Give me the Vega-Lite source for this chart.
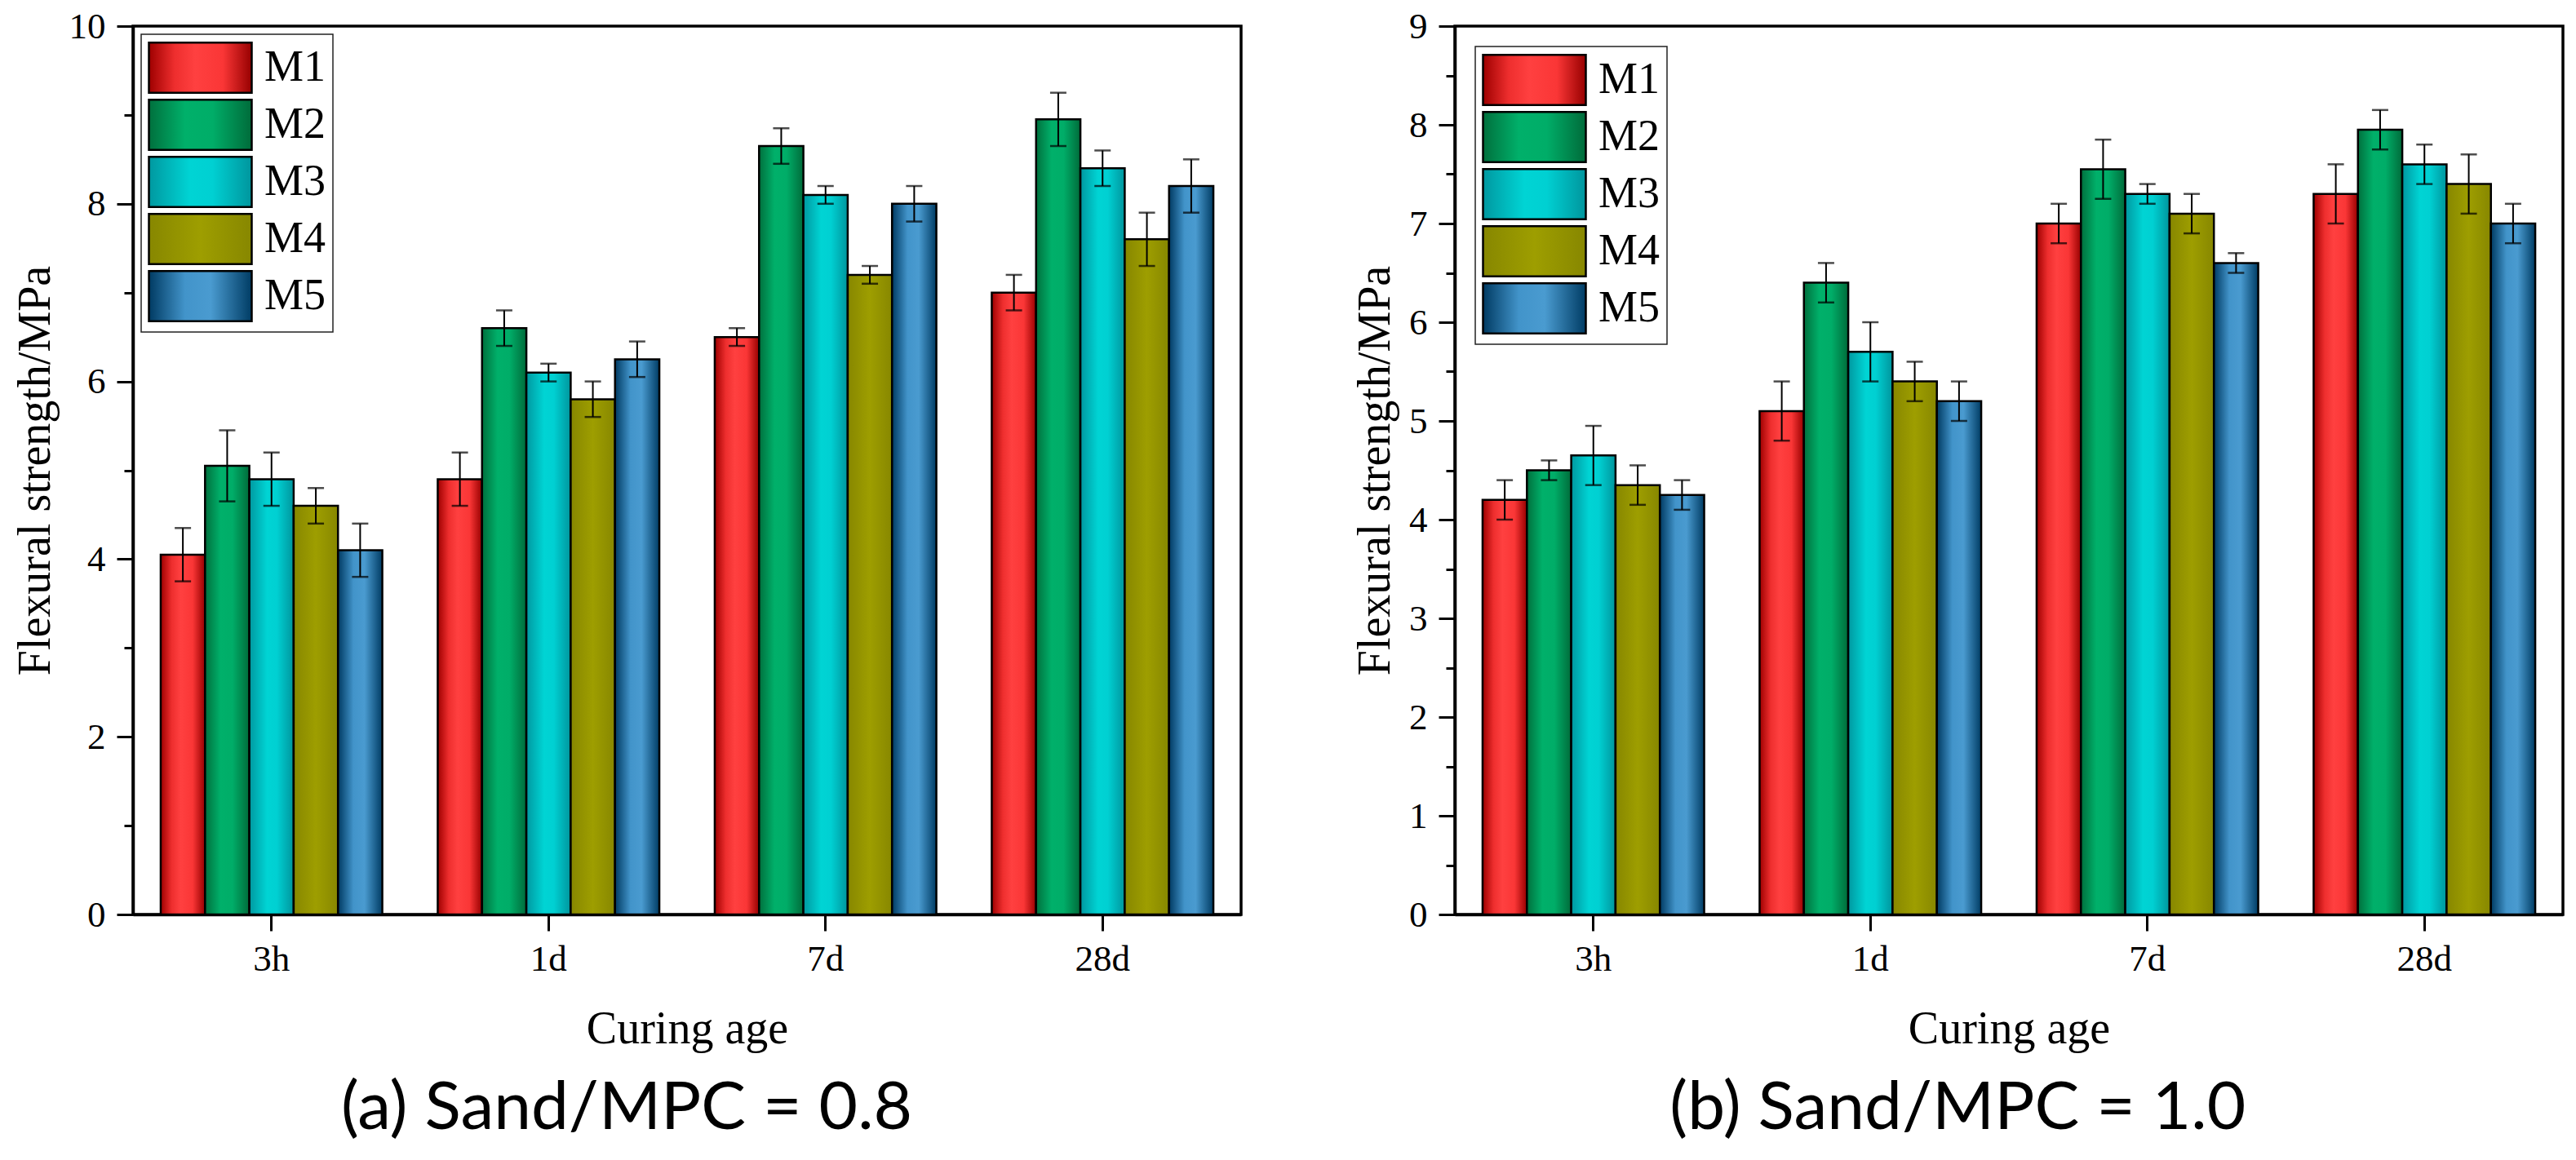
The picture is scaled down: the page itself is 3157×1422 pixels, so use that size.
{
  "$schema": "https://vega.github.io/schema/vega-lite/v6.json",
  "background": "white",
  "padding": {"left": 13, "top": 8, "right": 4, "bottom": 10},
  "spacing": 132,
  "datasets": {
    "a": [
      {"age": "3h", "mix": "M1", "v": 4.05, "lo": 3.75, "hi": 4.35},
      {"age": "3h", "mix": "M2", "v": 5.05, "lo": 4.65, "hi": 5.45},
      {"age": "3h", "mix": "M3", "v": 4.9, "lo": 4.6, "hi": 5.2},
      {"age": "3h", "mix": "M4", "v": 4.6, "lo": 4.4, "hi": 4.8},
      {"age": "3h", "mix": "M5", "v": 4.1, "lo": 3.8, "hi": 4.4},
      {"age": "1d", "mix": "M1", "v": 4.9, "lo": 4.6, "hi": 5.2},
      {"age": "1d", "mix": "M2", "v": 6.6, "lo": 6.4, "hi": 6.8},
      {"age": "1d", "mix": "M3", "v": 6.1, "lo": 6.0, "hi": 6.2},
      {"age": "1d", "mix": "M4", "v": 5.8, "lo": 5.6, "hi": 6.0},
      {"age": "1d", "mix": "M5", "v": 6.25, "lo": 6.05, "hi": 6.45},
      {"age": "7d", "mix": "M1", "v": 6.5, "lo": 6.4, "hi": 6.6},
      {"age": "7d", "mix": "M2", "v": 8.65, "lo": 8.45, "hi": 8.85},
      {"age": "7d", "mix": "M3", "v": 8.1, "lo": 8.0, "hi": 8.2},
      {"age": "7d", "mix": "M4", "v": 7.2, "lo": 7.1, "hi": 7.3},
      {"age": "7d", "mix": "M5", "v": 8.0, "lo": 7.8, "hi": 8.2},
      {"age": "28d", "mix": "M1", "v": 7.0, "lo": 6.8, "hi": 7.2},
      {"age": "28d", "mix": "M2", "v": 8.95, "lo": 8.65, "hi": 9.25},
      {"age": "28d", "mix": "M3", "v": 8.4, "lo": 8.2, "hi": 8.6},
      {"age": "28d", "mix": "M4", "v": 7.6, "lo": 7.3, "hi": 7.9},
      {"age": "28d", "mix": "M5", "v": 8.2, "lo": 7.9, "hi": 8.5}
    ],
    "b": [
      {"age": "3h", "mix": "M1", "v": 4.2, "lo": 4.0, "hi": 4.4},
      {"age": "3h", "mix": "M2", "v": 4.5, "lo": 4.4, "hi": 4.6},
      {"age": "3h", "mix": "M3", "v": 4.65, "lo": 4.35, "hi": 4.95},
      {"age": "3h", "mix": "M4", "v": 4.35, "lo": 4.15, "hi": 4.55},
      {"age": "3h", "mix": "M5", "v": 4.25, "lo": 4.1, "hi": 4.4},
      {"age": "1d", "mix": "M1", "v": 5.1, "lo": 4.8, "hi": 5.4},
      {"age": "1d", "mix": "M2", "v": 6.4, "lo": 6.2, "hi": 6.6},
      {"age": "1d", "mix": "M3", "v": 5.7, "lo": 5.4, "hi": 6.0},
      {"age": "1d", "mix": "M4", "v": 5.4, "lo": 5.2, "hi": 5.6},
      {"age": "1d", "mix": "M5", "v": 5.2, "lo": 5.0, "hi": 5.4},
      {"age": "7d", "mix": "M1", "v": 7.0, "lo": 6.8, "hi": 7.2},
      {"age": "7d", "mix": "M2", "v": 7.55, "lo": 7.25, "hi": 7.85},
      {"age": "7d", "mix": "M3", "v": 7.3, "lo": 7.2, "hi": 7.4},
      {"age": "7d", "mix": "M4", "v": 7.1, "lo": 6.9, "hi": 7.3},
      {"age": "7d", "mix": "M5", "v": 6.6, "lo": 6.5, "hi": 6.7},
      {"age": "28d", "mix": "M1", "v": 7.3, "lo": 7.0, "hi": 7.6},
      {"age": "28d", "mix": "M2", "v": 7.95, "lo": 7.75, "hi": 8.15},
      {"age": "28d", "mix": "M3", "v": 7.6, "lo": 7.4, "hi": 7.8},
      {"age": "28d", "mix": "M4", "v": 7.4, "lo": 7.1, "hi": 7.7},
      {"age": "28d", "mix": "M5", "v": 7.0, "lo": 6.8, "hi": 7.2}
    ]
  },
  "hconcat": [
    {
      "data": {"name": "a"},
      "width": 1358,
      "height": 1089,
      "title": {"text": "(a) Sand/MPC = 0.8", "orient": "bottom", "anchor": "middle", "frame": "bounds", "offset": 30},
      "encoding": {
        "x": {
          "field": "age", "type": "nominal", "sort": ["3h", "1d", "7d", "28d"],
          "scale": {"paddingInner": 0.2, "paddingOuter": 0.1},
          "axis": {"title": "Curing age"}
        },
        "xOffset": {"field": "mix", "type": "nominal", "scale": {"paddingInner": 0, "paddingOuter": 0}}
      },
      "layer": [
        {
          "mark": {"type": "bar", "stroke": "black", "strokeWidth": 2.5},
          "encoding": {
            "y": {
              "field": "v", "type": "quantitative",
              "title": "Flexural strength/MPa",
              "scale": {"domain": [0, 10], "nice": false},
              "axis": {
                "values": [0, 1, 2, 3, 4, 5, 6, 7, 8, 9, 10],
                "labelExpr": "datum.value % 2 === 0 ? format(datum.value, 'd') : ''",
                "tickSize": {"condition": {"test": "datum.value % 2 === 0", "value": 20}, "value": 11}
              }
            },
            "fill": {
              "field": "mix", "type": "nominal",
              "scale": {
                "domain": ["M1", "M2", "M3", "M4", "M5"],
                "range": [
                  {"expr": "{gradient: 'linear', x1: 0, y1: 0, x2: 1, y2: 0, stops: [{offset: 0, color: '#9e0000'}, {offset: 0.25, color: '#ee2e2e'}, {offset: 0.45, color: '#ff4040'}, {offset: 0.72, color: '#fa3636'}, {offset: 1, color: '#960000'}]}"},
                  {"expr": "{gradient: 'linear', x1: 0, y1: 0, x2: 1, y2: 0, stops: [{offset: 0, color: '#00703d'}, {offset: 0.35, color: '#00b06a'}, {offset: 0.62, color: '#00ad68'}, {offset: 1, color: '#006b3a'}]}"},
                  {"expr": "{gradient: 'linear', x1: 0, y1: 0, x2: 1, y2: 0, stops: [{offset: 0, color: '#0098a0'}, {offset: 0.4, color: '#00d4d4'}, {offset: 0.62, color: '#00d0d2'}, {offset: 1, color: '#00959d'}]}"},
                  {"expr": "{gradient: 'linear', x1: 0, y1: 0, x2: 1, y2: 0, stops: [{offset: 0, color: '#878700'}, {offset: 0.5, color: '#9e9e00'}, {offset: 1, color: '#878700'}]}"},
                  {"expr": "{gradient: 'linear', x1: 0, y1: 0, x2: 1, y2: 0, stops: [{offset: 0, color: '#003a62'}, {offset: 0.35, color: '#4294ca'}, {offset: 0.6, color: '#4a9bd0'}, {offset: 1, color: '#003c64'}]}"}
                ]
              },
              "legend": {"offset": 10}
            }
          }
        },
        {
          "mark": {"type": "rule", "color": "black", "strokeWidth": 2},
          "encoding": {
            "y": {"field": "lo", "type": "quantitative", "title": "Flexural strength/MPa"},
            "y2": {"field": "hi"}
          }
        },
        {
          "mark": {"type": "tick", "color": "black", "thickness": 2.5, "size": 20},
          "encoding": {"y": {"field": "lo", "type": "quantitative", "title": "Flexural strength/MPa"}}
        },
        {
          "mark": {"type": "tick", "color": "black", "thickness": 2.5, "size": 20},
          "encoding": {"y": {"field": "hi", "type": "quantitative", "title": "Flexural strength/MPa"}}
        }
      ]
    },
    {
      "data": {"name": "b"},
      "width": 1358,
      "height": 1089,
      "title": {"text": "(b) Sand/MPC = 1.0", "orient": "bottom", "anchor": "middle", "frame": "bounds", "offset": 30},
      "encoding": {
        "x": {
          "field": "age", "type": "nominal", "sort": ["3h", "1d", "7d", "28d"],
          "scale": {"paddingInner": 0.2, "paddingOuter": 0.1},
          "axis": {"title": "Curing age"}
        },
        "xOffset": {"field": "mix", "type": "nominal", "scale": {"paddingInner": 0, "paddingOuter": 0}}
      },
      "layer": [
        {
          "mark": {"type": "bar", "stroke": "black", "strokeWidth": 2.5},
          "encoding": {
            "y": {
              "field": "v", "type": "quantitative",
              "title": "Flexural strength/MPa",
              "scale": {"domain": [0, 9], "nice": false},
              "axis": {
                "values": [0, 0.5, 1, 1.5, 2, 2.5, 3, 3.5, 4, 4.5, 5, 5.5, 6, 6.5, 7, 7.5, 8, 8.5, 9],
                "labelExpr": "datum.value % 1 === 0 ? format(datum.value, 'd') : ''",
                "tickSize": {"condition": {"test": "datum.value % 1 === 0", "value": 20}, "value": 11}
              }
            },
            "fill": {
              "field": "mix", "type": "nominal",
              "scale": {
                "domain": ["M1", "M2", "M3", "M4", "M5"],
                "range": [
                  {"expr": "{gradient: 'linear', x1: 0, y1: 0, x2: 1, y2: 0, stops: [{offset: 0, color: '#9e0000'}, {offset: 0.25, color: '#ee2e2e'}, {offset: 0.45, color: '#ff4040'}, {offset: 0.72, color: '#fa3636'}, {offset: 1, color: '#960000'}]}"},
                  {"expr": "{gradient: 'linear', x1: 0, y1: 0, x2: 1, y2: 0, stops: [{offset: 0, color: '#00703d'}, {offset: 0.35, color: '#00b06a'}, {offset: 0.62, color: '#00ad68'}, {offset: 1, color: '#006b3a'}]}"},
                  {"expr": "{gradient: 'linear', x1: 0, y1: 0, x2: 1, y2: 0, stops: [{offset: 0, color: '#0098a0'}, {offset: 0.4, color: '#00d4d4'}, {offset: 0.62, color: '#00d0d2'}, {offset: 1, color: '#00959d'}]}"},
                  {"expr": "{gradient: 'linear', x1: 0, y1: 0, x2: 1, y2: 0, stops: [{offset: 0, color: '#878700'}, {offset: 0.5, color: '#9e9e00'}, {offset: 1, color: '#878700'}]}"},
                  {"expr": "{gradient: 'linear', x1: 0, y1: 0, x2: 1, y2: 0, stops: [{offset: 0, color: '#003a62'}, {offset: 0.35, color: '#4294ca'}, {offset: 0.6, color: '#4a9bd0'}, {offset: 1, color: '#003c64'}]}"}
                ]
              },
              "legend": {"offset": 25}
            }
          }
        },
        {
          "mark": {"type": "rule", "color": "black", "strokeWidth": 2},
          "encoding": {
            "y": {"field": "lo", "type": "quantitative", "title": "Flexural strength/MPa"},
            "y2": {"field": "hi"}
          }
        },
        {
          "mark": {"type": "tick", "color": "black", "thickness": 2.5, "size": 20},
          "encoding": {"y": {"field": "lo", "type": "quantitative", "title": "Flexural strength/MPa"}}
        },
        {
          "mark": {"type": "tick", "color": "black", "thickness": 2.5, "size": 20},
          "encoding": {"y": {"field": "hi", "type": "quantitative", "title": "Flexural strength/MPa"}}
        }
      ]
    }
  ],
  "resolve": {"scale": {"fill": "independent", "y": "independent"}, "legend": {"fill": "independent"}},
  "config": {
    "view": {"stroke": "black", "strokeWidth": 3.5},
    "font": "Liberation Serif",
    "axis": {
      "grid": false,
      "labelAngle": 0,
      "labelFont": "Liberation Serif",
      "labelFontSize": 45,
      "labelColor": "black",
      "labelPadding": 14,
      "tickSize": 20,
      "tickWidth": 3,
      "tickColor": "black",
      "domainColor": "black",
      "domainWidth": 3.5,
      "titleFont": "Liberation Serif",
      "titleFontSize": 56,
      "titleFontWeight": "normal",
      "titleColor": "black"
    },
    "axisY": {"titlePadding": 12},
    "axisX": {"titlePadding": 36, "labelPadding": 12},
    "legend": {
      "title": null,
      "orient": "top-left",
      "symbolType": "M-1,-0.98H3V0.98H-1Z",
      "symbolSize": 3969,
      "symbolStrokeColor": "black",
      "symbolStrokeWidth": 2.5,
      "symbolOpacity": 1,
      "labelFont": "Liberation Serif",
      "labelFontSize": 54,
      "labelColor": "black",
      "labelOffset": 77,
      "labelLimit": 0,
      "rowPadding": -2,
      "padding": 8,
      "strokeColor": "#222222",
      "strokeWidth": 1.5,
      "fillColor": "white"
    },
    "title": {"font": "Lato", "fontSize": 82, "fontWeight": "normal", "color": "black"}
  }
}
